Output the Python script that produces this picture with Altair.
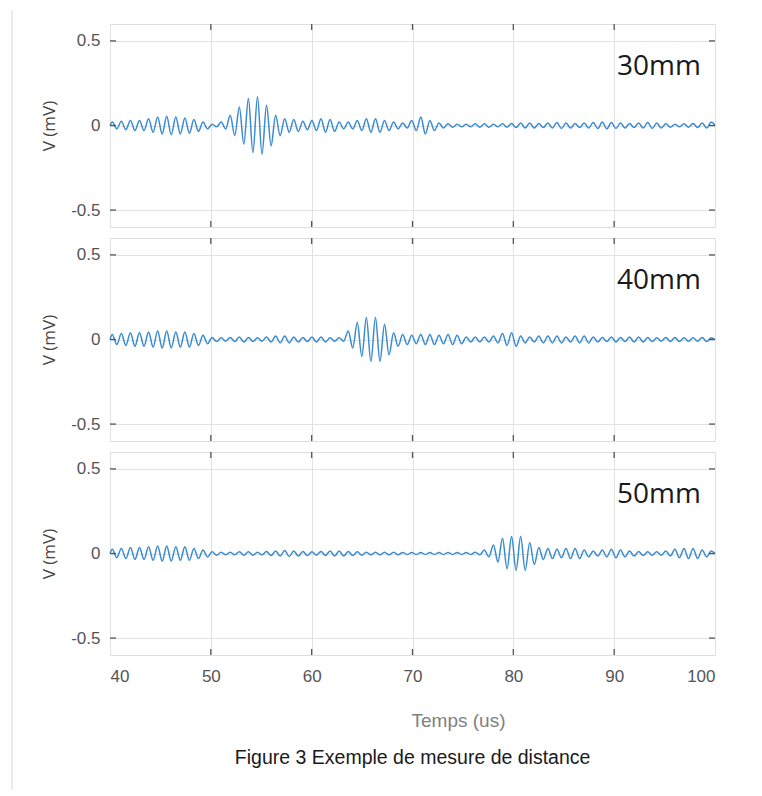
import altair as alt
import pandas as pd

# ---- data -----------------------------------------------------------------
T_START = 40.0
T_END = 100.0
HALF_PERIOD = 0.45          # time between successive extrema (us)

panel_labels = ["30mm", "40mm", "50mm"]
x_ticks = [40, 50, 60, 70, 80, 90, 100]
y_ticks = [-0.5, 0, 0.5]

# peak amplitude (mV) of each oscillation cycle, 40 us -> 100 us
amp_30mm = [0.02, 0.025, 0.03, 0.03, 0.04, 0.05, 0.055, 0.05, 0.045, 0.035,
            0.02, 0.008, 0.02, 0.06, 0.11, 0.16, 0.17, 0.12, 0.06, 0.04,
            0.035, 0.025, 0.03, 0.04, 0.035, 0.02, 0.02, 0.03, 0.04, 0.04,
            0.03, 0.02, 0.015, 0.03, 0.05, 0.03, 0.015, 0.01,
            0.008, 0.008, 0.01, 0.01, 0.008, 0.01, 0.012, 0.015, 0.015, 0.012,
            0.015, 0.018, 0.015, 0.012, 0.015, 0.018, 0.02, 0.018, 0.015, 0.012,
            0.015, 0.018, 0.015, 0.01, 0.008, 0.01, 0.012, 0.015, 0.02]
amp_40mm = [0.03, 0.035, 0.04, 0.04, 0.045, 0.05, 0.05, 0.045, 0.045, 0.035,
            0.025, 0.012,
            0.01, 0.012, 0.015, 0.012, 0.01, 0.015, 0.02, 0.02, 0.015, 0.012,
            0.015, 0.015, 0.01, 0.01,
            0.05, 0.1, 0.13, 0.13, 0.09, 0.04, 0.03,
            0.025, 0.03, 0.03, 0.025, 0.03, 0.025, 0.015, 0.015, 0.015, 0.02,
            0.035, 0.04, 0.02, 0.015, 0.02, 0.02, 0.02, 0.015, 0.02, 0.02,
            0.015, 0.012, 0.015,
            0.012, 0.015, 0.015, 0.012, 0.01, 0.012, 0.012, 0.01, 0.01, 0.012, 0.01]
amp_50mm = [0.025, 0.03, 0.035, 0.035, 0.04, 0.045, 0.045, 0.04, 0.04, 0.03,
            0.02, 0.01,
            0.008, 0.008, 0.01, 0.01, 0.008, 0.012, 0.015, 0.018, 0.015, 0.012,
            0.01, 0.012, 0.015, 0.015, 0.012, 0.01, 0.008, 0.008, 0.008, 0.008,
            0.006, 0.006, 0.006, 0.006, 0.006, 0.006, 0.006, 0.006, 0.008,
            0.02, 0.05, 0.09, 0.1, 0.1, 0.065, 0.035,
            0.03, 0.025, 0.03, 0.03, 0.02, 0.015, 0.02, 0.025, 0.02, 0.015,
            0.012, 0.01, 0.01, 0.015, 0.025, 0.03, 0.03, 0.02, 0.015]
amplitudes = [amp_30mm, amp_40mm, amp_50mm]

# ---- styling ---------------------------------------------------------------
W, H = 605, 203
LINE = "#3a8bd0"
FRAME = "#555555"
GRID = "#e2e2e2"
TXT = "#555555"
FONT = "Liberation Sans, Arial, sans-serif"


def wave(amps):
    rows = [{"t": T_START, "v": 0.0}]
    for i, a in enumerate(amps):
        for sign, k in ((1, 2 * i), (-1, 2 * i + 1)):
            t = T_START + HALF_PERIOD * (k + 0.5)
            if t < T_END:
                rows.append({"t": t, "v": sign * a})
    rows.append({"t": T_END, "v": 0.0})
    return pd.DataFrame(rows)


def panel(amps, label, idx):
    bottom = idx == 2
    xscale = alt.Scale(domain=[T_START, T_END], nice=False, zero=False)
    yscale = alt.Scale(domain=[-0.6, 0.6], nice=False)
    xaxis = alt.Axis(
        values=x_ticks, grid=True, gridColor=GRID, domain=False, ticks=False,
        labels=bottom, labelFont=FONT, labelFontSize=17, labelColor=TXT,
        labelPadding=13,
        title="Temps (us)" if bottom else None,
        titleFont=FONT, titleFontSize=19, titleColor="#808080",
        titleFontWeight="normal", titleX=348, titleY=65,
        titleBaseline="middle", titleAlign="center",
    )
    yaxis = alt.Axis(
        values=y_ticks, grid=True, gridColor=GRID, domain=False, ticks=False,
        labelFont=FONT, labelFontSize=17, labelColor=TXT, labelPadding=10,
        labelExpr="datum.value < 0 ? '-' + format(-datum.value, '.1f') : "
                  "(datum.value == 0 ? '0' : format(datum.value, '.1f'))",
        title="V (mV)", titleFont="Open Sans", titleFontSize=17,
        titleColor="#444444", titleFontWeight="normal", titlePadding=12,
    )
    line = alt.Chart(wave(amps)).mark_line(
        color=LINE, strokeWidth=1.5, interpolate="monotone"
    ).encode(
        x=alt.X("t:Q", scale=xscale, axis=xaxis),
        y=alt.Y("v:Q", scale=yscale, axis=yaxis),
    )
    text = alt.Chart(pd.DataFrame({"t": [98.6], "v": [0.3], "label": [label]})).mark_text(
        align="right", baseline="alphabetic", font="Open Sans", fontSize=28,
        color="#1a1a1a",
    ).encode(x="t:Q", y="v:Q", text="label:N")
    xt = pd.DataFrame({"t": x_ticks[1:-1]})
    yt = pd.DataFrame({"v": y_ticks})
    tick_top = alt.Chart(xt).mark_rule(color=FRAME, strokeWidth=1.3).encode(
        x="t:Q", y=alt.value(0), y2=alt.value(6))
    tick_bot = alt.Chart(xt).mark_rule(color=FRAME, strokeWidth=1.3).encode(
        x="t:Q", y=alt.value(H - 6), y2=alt.value(H))
    tick_l = alt.Chart(yt).mark_rule(color=FRAME, strokeWidth=1.3).encode(
        y="v:Q", x=alt.value(0), x2=alt.value(6))
    tick_r = alt.Chart(yt).mark_rule(color=FRAME, strokeWidth=1.3).encode(
        y="v:Q", x=alt.value(W - 6), x2=alt.value(W))
    layers = [line, text, tick_top, tick_bot, tick_l, tick_r]
    if idx == 0:
        # faint page border line at the far left of the picture
        border = alt.Chart(pd.DataFrame({"k": [0]})).mark_rule(
            color="#e4e4e4", strokeWidth=1.5
        ).encode(x=alt.value(-98), y=alt.value(-14), y2=alt.value(766))
        layers.append(border)
    return alt.layer(*layers).properties(width=W, height=H)


panels = [panel(a, l, i) for i, (a, l) in enumerate(zip(amplitudes, panel_labels))]

chart = alt.vconcat(*panels, spacing=11, bounds="flush").properties(
    title=alt.TitleParams(
        "Figure 3 Exemple de mesure de distance", orient="bottom",
        anchor="middle", font="Liberation Sans", fontSize=19.5,
        fontWeight="normal", color="#1a1a1a", offset=0, dy=-42, dx=48,
    ),
    padding={"left": 2, "top": 0, "right": 10, "bottom": 0},
).configure_view(
    stroke=FRAME, strokeWidth=1.6
).configure(background="white")

chart.save("out.html", embed_options={"renderer": "svg", "actions": False})
